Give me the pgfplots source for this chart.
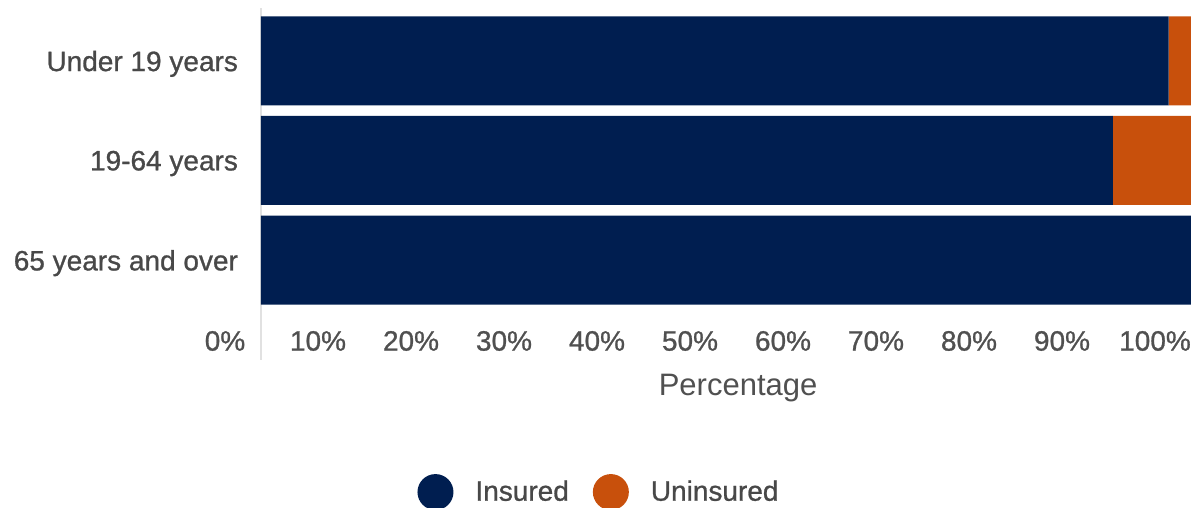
\documentclass[border=0pt]{standalone}
\usepackage{fontspec}
\setmainfont{Liberation Sans}[BoldFont=Liberation Sans, BoldFeatures={FakeBold=0.9}]
\usepackage{pgfplots}
\pgfplotsset{compat=1.18}
\definecolor{navy}{RGB}{0,30,80}
\definecolor{orng}{RGB}{200,80,12}
\definecolor{txt}{RGB}{80,80,80}
\definecolor{axl}{RGB}{225,225,225}
\begin{document}
\begin{tikzpicture}
\useasboundingbox (0,0) rectangle (595.5pt,254pt);
\begin{axis}[
  at={(130.5pt,99pt)}, anchor=south west,
  scale only axis, width=465pt, height=149.5pt,
  xbar stacked, bar width=0.893,
  xmin=0, xmax=100, ymin=-0.5, ymax=2.5,
  axis line style={draw=none},
  major tick length=0pt,
  xtick={0,10,...,100},
  xticklabel={\pgfmathprintnumber{\tick}\%},
  xticklabel style={font=\fontsize{14}{16}\selectfont\bfseries, text=txt, anchor=north, xshift=-18pt, yshift=-7pt},
  ytick={0,1,2},
  yticklabels={65 years and over,19-64 years,Under 19 years},
  yticklabel style={font=\fontsize{14}{16}\selectfont\bfseries, text=txt!90!black, xshift=-8pt, yshift=-1.5pt},
  /pgf/number format/assume math mode=true,
  xlabel={Percentage},
  xlabel style={at={(axis description cs:0.513,0)}, anchor=center, yshift=-39pt, font=\fontsize{15.5}{17}\selectfont, text=txt},
  clip=false,
  legend columns=2,
  legend style={at={(axis description cs:0.3645,-0.609)}, anchor=center, draw=none, fill=none,
    font=\fontsize{14}{16}\selectfont\bfseries, text=txt!90!black,
    /tikz/every even column/.append style={column sep=10pt},
    /tikz/every odd column/.append style={column sep=0pt}},
  legend image code/.code={\fill[#1] (0pt,0pt) circle (9pt); \path (18pt,0pt);},
]
\addplot[fill=navy, draw=none] coordinates {(100,0) (91.6,1) (97.6,2)};
\addplot[fill=orng, draw=none] coordinates {(0,0) (8.4,1) (2.4,2)};
\legend{Insured,Uninsured}
\draw[axl, line width=1pt] (axis cs:0,-1.0) -- (axis cs:0,2.53);
\end{axis}
\end{tikzpicture}
\end{document}
